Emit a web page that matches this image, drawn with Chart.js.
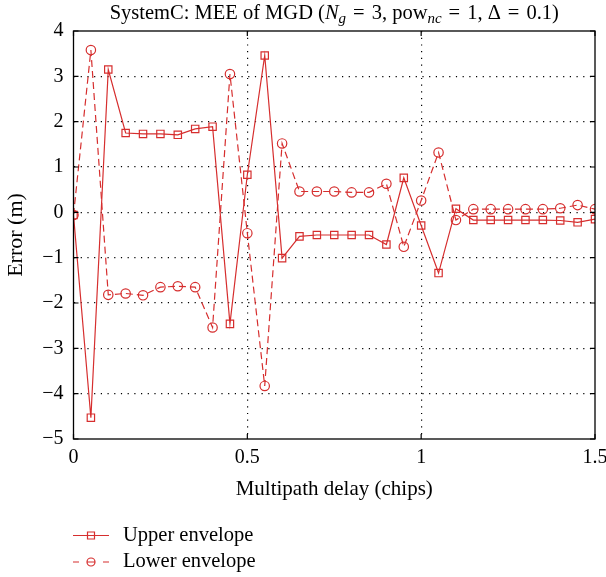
<!DOCTYPE html>
<html>
<head>
<meta charset="utf-8">
<script src="https://cdn.jsdelivr.net/npm/chart.js@4/dist/chart.umd.min.js"></script>
<style>
  html, body { margin: 0; padding: 0; background: #fff; }
  #wrap { width: 606px; height: 577px; }
</style>
</head>
<body>
<div id="wrap"><canvas id="chart" width="606" height="577"></canvas></div>
<script>
const delays = [0, 0.05, 0.1, 0.15, 0.2, 0.25, 0.3, 0.35, 0.4, 0.45, 0.5, 0.55, 0.6, 0.65, 0.7, 0.75,
  0.8, 0.85, 0.9, 0.95, 1.0, 1.05, 1.1, 1.15, 1.2, 1.25, 1.3, 1.35, 1.4, 1.45, 1.5];
const upperEnvelope = [-0.06, -4.53, 3.15, 1.75, 1.73, 1.73, 1.71, 1.84, 1.89, -2.46, 0.83, 3.46, -1.01, -0.53, -0.50, -0.50,
  -0.50, -0.50, -0.71, 0.76, -0.29, -1.34, 0.08, -0.17, -0.17, -0.17, -0.17, -0.17, -0.18, -0.22, -0.15];
const lowerEnvelope = [-0.06, 3.58, -1.82, -1.79, -1.83, -1.65, -1.63, -1.65, -2.54, 3.05, -0.46, -3.83, 1.52, 0.46, 0.46, 0.46,
  0.44, 0.44, 0.63, -0.76, 0.26, 1.32, -0.17, 0.07, 0.07, 0.07, 0.07, 0.07, 0.09, 0.16, 0.07];
const xTicks = [0, 0.5, 1, 1.5];
const yTicks = [-5, -4, -3, -2, -1, 0, 1, 2, 3, 4];

const red = 'rgb(214, 46, 46)';
const serif = '"Liberation Serif", "DejaVu Serif", serif';

function pts(ys) {
  return delays.map((x, i) => ({ x: x, y: ys[i] }));
}

// title with subscripts, border box, inward ticks and legend
const extras = {
  id: 'extras',
  afterDraw(chart) {
    const ctx = chart.ctx;
    const a = chart.chartArea;
    const xs = chart.scales.x, ys = chart.scales.y;
    ctx.save();
    // box
    ctx.strokeStyle = '#000';
    ctx.lineWidth = 1.3;
    ctx.strokeRect(a.left, a.top, a.right - a.left, a.bottom - a.top);
    // inward ticks
    ctx.lineWidth = 1.2;
    ctx.beginPath();
    xTicks.forEach(v => {
      const px = xs.getPixelForValue(v);
      ctx.moveTo(px, a.bottom); ctx.lineTo(px, a.bottom - 5);
      ctx.moveTo(px, a.top); ctx.lineTo(px, a.top + 5);
    });
    yTicks.forEach(v => {
      const py = ys.getPixelForValue(v);
      ctx.moveTo(a.left, py); ctx.lineTo(a.left + 5, py);
      ctx.moveTo(a.right, py); ctx.lineTo(a.right - 5, py);
    });
    ctx.stroke();

    // title (math-style spacing around "=")
    const big = '20.5px', small = '15px';
    const runs = [
      { t: 'SystemC: MEE of MGD (', f: big },
      { t: 'N', f: 'italic ' + big },
      { t: 'g', f: 'italic ' + small, dy: 4 },
      { gap: 7 }, { t: '=', f: big }, { gap: 7 },
      { t: '3, pow', f: big },
      { t: 'nc', f: 'italic ' + small, dy: 4 },
      { gap: 7 }, { t: '=', f: big }, { gap: 7 },
      { t: '1, Δ', f: big },
      { gap: 7 }, { t: '=', f: big }, { gap: 7 },
      { t: '0.1)', f: big }
    ];
    let total = 0;
    runs.forEach(r => {
      if (r.gap) { r.w = r.gap; } else { ctx.font = r.f + ' ' + serif; r.w = ctx.measureText(r.t).width; }
      total += r.w;
    });
    let tx = (a.left + a.right) / 2 - total / 2;
    ctx.fillStyle = '#000';
    ctx.textBaseline = 'alphabetic';
    ctx.textAlign = 'left';
    runs.forEach(r => {
      if (!r.gap) {
        ctx.font = r.f + ' ' + serif;
        ctx.fillText(r.t, tx, 19 + (r.dy || 0));
      }
      tx += r.w;
    });

    // legend
    chart.data.datasets.forEach((ds, i) => {
      const ly = 535.5 + i * 26.5;
      ctx.strokeStyle = ds.borderColor;
      ctx.lineWidth = 1.2;
      ctx.beginPath();
      if (ds.borderDash) {
        ctx.moveTo(73, ly); ctx.lineTo(79, ly);
        ctx.moveTo(103, ly); ctx.lineTo(109, ly);
      } else {
        ctx.moveTo(73, ly); ctx.lineTo(109, ly);
      }
      ctx.stroke();
      ctx.beginPath();
      if (ds.pointStyle === 'rect') {
        ctx.rect(87.5, ly - 3.5, 7, 7);
      } else {
        ctx.arc(91, ly, 4, 0, Math.PI * 2);
        ctx.moveTo(87, ly); ctx.lineTo(95, ly);
      }
      ctx.stroke();
      ctx.fillStyle = '#000';
      ctx.font = '20.5px ' + serif;
      ctx.textBaseline = 'middle';
      ctx.fillText(ds.label, 123, ly);
    });
    ctx.restore();
  }
};

new Chart(document.getElementById('chart'), {
  type: 'line',
  data: {
    datasets: [
      {
        label: 'Upper envelope',
        data: pts(upperEnvelope),
        borderColor: red,
        backgroundColor: 'rgba(0,0,0,0)',
        borderWidth: 1.2,
        pointStyle: 'rect',
        pointRadius: 5.2,
        pointBorderWidth: 1.2,
        pointBorderColor: red,
        pointBackgroundColor: 'rgba(0,0,0,0)',
        tension: 0
      },
      {
        label: 'Lower envelope',
        data: pts(lowerEnvelope),
        borderColor: red,
        backgroundColor: 'rgba(0,0,0,0)',
        borderWidth: 1.2,
        borderDash: [7, 4],
        pointStyle: 'circle',
        pointRadius: 4.7,
        pointBorderWidth: 1.2,
        pointBorderColor: red,
        pointBackgroundColor: 'rgba(0,0,0,0)',
        tension: 0
      }
    ]
  },
  options: {
    responsive: false,
    animation: false,
    layout: { padding: { left: 0, right: 11, top: 31, bottom: 72 } },
    plugins: { legend: { display: false }, tooltip: { enabled: false }, title: { display: false } },
    scales: {
      x: {
        type: 'linear',
        min: 0, max: 1.5,
        afterBuildTicks: s => { s.ticks = xTicks.map(v => ({ value: v })); },
        afterFit: s => { s.height = 66; s.paddingRight = 0; s.paddingLeft = 0; },
        ticks: {
          color: '#000', font: { family: serif, size: 20 }, padding: 7, maxRotation: 0,
          callback: v => String(v)
        },
        grid: {
          color: c => (c.tick && (c.tick.value === 0 || c.tick.value === 1.5)) ? 'rgba(0,0,0,0)' : '#000',
          lineWidth: 1.2,
          drawTicks: false,
          tickLength: 0
        },
        border: { display: false, dash: [1.2, 5.5] },
        title: { display: true, text: 'Multipath delay (chips)', color: '#000', font: { family: serif, size: 21 }, padding: { top: 4, bottom: 3 } }
      },
      y: {
        min: -5, max: 4,
        afterBuildTicks: s => { s.ticks = yTicks.map(v => ({ value: v })); },
        afterFit: s => { s.width = 73.5; s.paddingTop = 0; s.paddingBottom = 0; },
        ticks: {
          color: '#000', font: { family: serif, size: 20 }, padding: 10,
          callback: v => String(v).replace('-', '\u2212')
        },
        grid: {
          color: c => (c.tick && (c.tick.value === -5 || c.tick.value === 4)) ? 'rgba(0,0,0,0)' : '#000',
          lineWidth: 1.2,
          drawTicks: false,
          tickLength: 0
        },
        border: { display: false, dash: [1.2, 5.5] },
        title: { display: true, text: 'Error (m)', color: '#000', font: { family: serif, size: 22 }, padding: { top: 3, bottom: 2 } }
      }
    }
  },
  plugins: [extras]
});
</script>
</body>
</html>
